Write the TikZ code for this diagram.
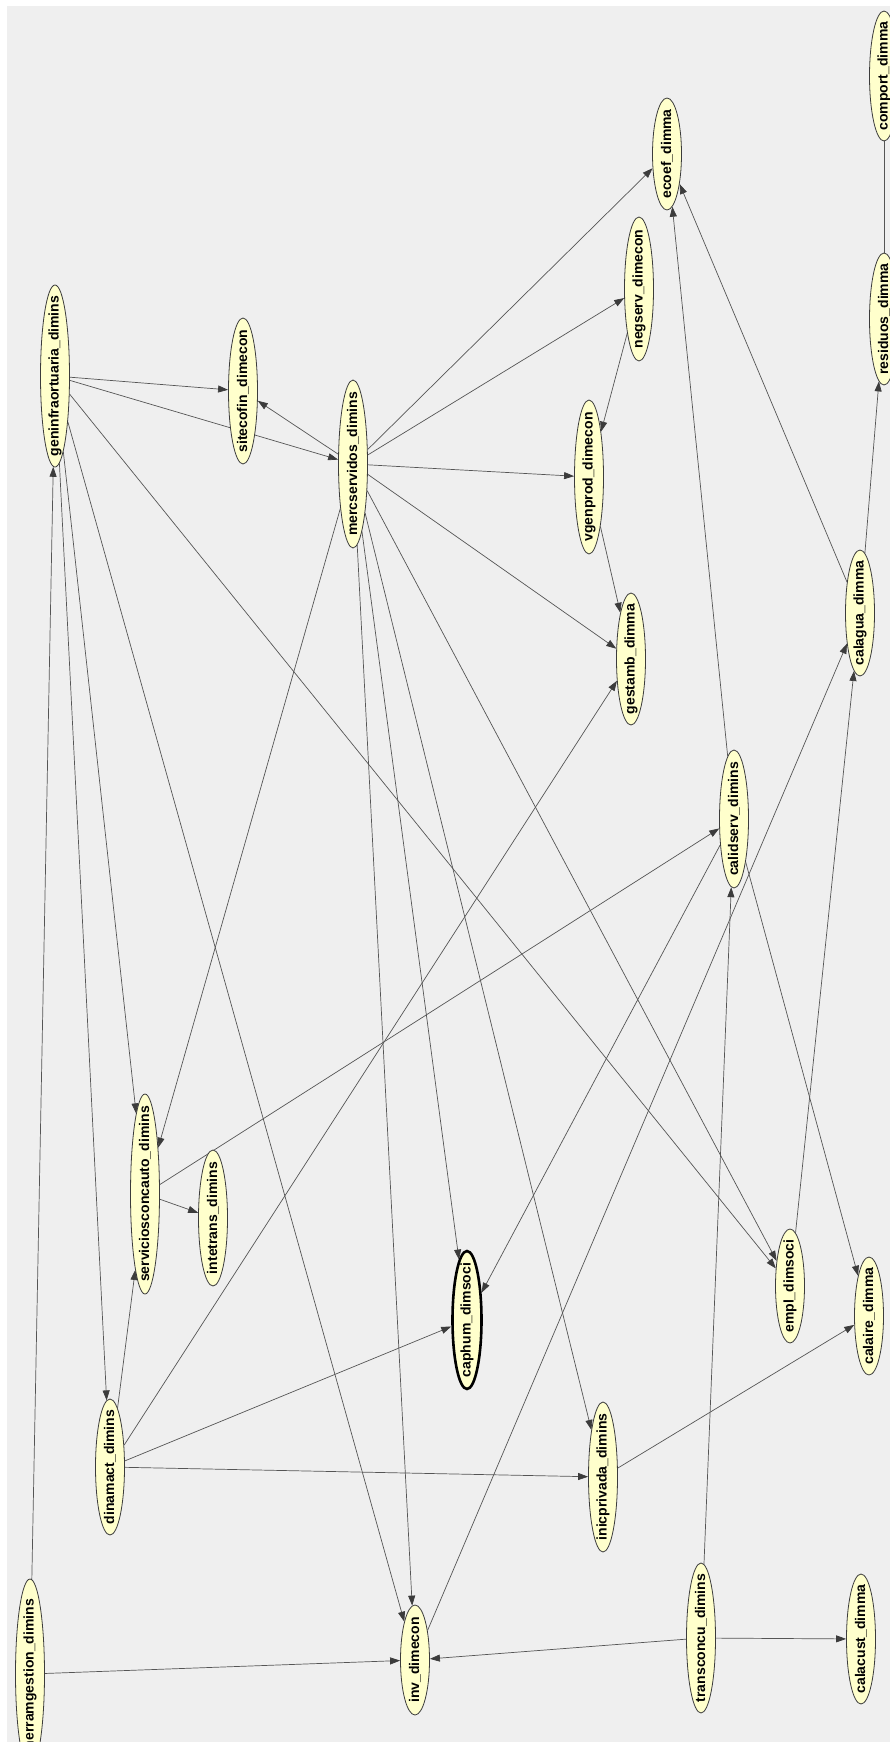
\documentclass[tikz,border=0pt]{standalone}
\usepackage{fontspec}
\setmainfont{Liberation Sans}
\usetikzlibrary{shapes.geometric,arrows.meta}
\pgfdeclarelayer{bg}
\pgfdeclarelayer{edges}
\pgfsetlayers{bg,edges,main}
\definecolor{bgc}{RGB}{239,239,239}
\definecolor{nodefill}{RGB}{255,255,204}
\definecolor{nodeline}{RGB}{60,60,60}
\definecolor{edgec}{RGB}{85,85,85}
\definecolor{tipc}{RGB}{60,60,60}
\begin{document}
\begin{tikzpicture}[x=1pt,y=-1pt,
  var/.style={ellipse, draw=nodeline, line width=0.8pt, fill=nodefill, rotate=90,
    minimum height=29pt, inner sep=0pt, font=\fontsize{14}{14}\selectfont\bfseries},
  selvar/.style={var, draw=black, line width=2.6pt},
  edge/.style={draw=edgec, line width=0.7pt, -{Triangle[length=10pt,width=7pt,color=tipc]}},
  plainedge/.style={draw=edgec, line width=0.7pt}]
\useasboundingbox (0,0) rectangle (890,1742);
\begin{pgfonlayer}{bg}
  \fill[white] (0,0) rectangle (890,1742);
  \fill[bgc] (7,6) rectangle (890,1742);
\end{pgfonlayer}

\node[var, minimum width=182pt] (geninfra) at (55,376) {\makebox[0pt]{geninfraortuaria\_dimins}};
\node[var, minimum width=146pt] (sitecofin) at (243,391) {\makebox[0pt]{sitecofin\_dimecon}};
\node[var, minimum width=168pt] (merc) at (353,464) {\makebox[0pt]{mercservidos\_dimins}};
\node[var, minimum width=112pt] (ecoef) at (667,154) {\makebox[0pt]{ecoef\_dimma}};
\node[var, minimum width=144pt] (negserv) at (639,289) {\makebox[0pt]{negserv\_dimecon}};
\node[var, minimum width=154pt] (vgenprod) at (589,477) {\makebox[0pt]{vgenprod\_dimecon}};
\node[var, minimum width=130pt] (comport) at (884,76) {\makebox[0pt]{comport\_dimma}};
\node[var, minimum width=132pt] (residuos) at (884,319) {\makebox[0pt]{residuos\_dimma}};
\node[var, minimum width=126pt] (calagua) at (860,613) {\makebox[0pt]{calagua\_dimma}};
\node[var, minimum width=132pt] (gestamb) at (631,659) {\makebox[0pt]{gestamb\_dimma}};
\node[var, minimum width=138pt] (calidserv) at (734,819) {\makebox[0pt]{calidserv\_dimins}};
\node[var, minimum width=200pt] (servicios) at (145,1194) {\makebox[0pt]{serviciosconcauto\_dimins}};
\node[var, minimum width=136pt] (intetrans) at (213,1218) {\makebox[0pt]{intetrans\_dimins}};
\node[var, minimum width=136pt] (dinamact) at (110,1467) {\makebox[0pt]{dinamact\_dimins}};
\node[var, minimum width=190pt] (herram) at (30,1674) {\makebox[0pt]{herramgestion\_dimins}};
\node[var, minimum width=110pt] (inv) at (415,1660) {\makebox[0pt]{inv\_dimecon}};
\node[selvar, minimum width=138pt] (caphum) at (467,1320) {\makebox[0pt]{caphum\_dimsoci}};
\node[var, minimum width=114pt] (empl) at (790,1286) {\makebox[0pt]{empl\_dimsoci}};
\node[var, minimum width=118pt] (calaire) at (869,1316) {\makebox[0pt]{calaire\_dimma}};
\node[var, minimum width=150pt] (inicpriv) at (603,1477) {\makebox[0pt]{inicprivada\_dimins}};
\node[var, minimum width=150pt] (transconcu) at (701,1638) {\makebox[0pt]{transconcu\_dimins}};
\node[var, minimum width=130pt] (calacust) at (861,1639) {\makebox[0pt]{calacust\_dimma}};

\begin{pgfonlayer}{edges}
  \draw[edge] (geninfra) -- (sitecofin);
  \draw[edge] (geninfra) -- (merc);
  \draw[edge] (merc) -- (sitecofin);
  \draw[edge] (herram) -- (geninfra);
  \draw[edge] (herram) -- (inv);
  \draw[edge] (geninfra) -- (dinamact);
  \draw[edge] (geninfra) -- (servicios);
  \draw[edge] (geninfra) -- (inv);
  \draw[edge] (geninfra) -- (empl);
  \draw[edge] (dinamact) -- (servicios);
  \draw[edge] (dinamact) -- (gestamb);
  \draw[edge] (dinamact) -- (caphum);
  \draw[edge] (dinamact) -- (inicpriv);
  \draw[edge] (servicios) -- (intetrans);
  \draw[edge] (servicios) -- (calidserv);
  \draw[edge] (merc) -- (servicios);
  \draw[edge] (merc) -- (inv);
  \draw[edge] (merc) -- (caphum);
  \draw[edge] (merc) -- (inicpriv);
  \draw[edge] (merc) -- (empl);
  \draw[edge] (merc) -- (ecoef);
  \draw[edge] (merc) -- (negserv);
  \draw[edge] (merc) -- (vgenprod);
  \draw[edge] (merc) -- (gestamb);
  \draw[edge] (negserv) -- (vgenprod);
  \draw[edge] (vgenprod) -- (gestamb);
  \draw[edge] (calidserv) -- (ecoef);
  \draw[edge] (calagua) -- (ecoef);
  \draw[edge] (calagua) -- (residuos);
  \draw[plainedge] (comport) -- (residuos);
  \draw[edge] (inv) -- (calagua);
  \draw[edge] (empl) -- (calagua);
  \draw[edge] (calidserv) -- (caphum);
  \draw[edge] (calidserv) -- (calaire);
  \draw[edge] (transconcu) -- (calidserv);
  \draw[edge] (transconcu) -- (inv);
  \draw[edge] (transconcu) -- (calacust);
  \draw[edge] (inicpriv) -- (calaire);
\end{pgfonlayer}
\end{tikzpicture}
\end{document}
